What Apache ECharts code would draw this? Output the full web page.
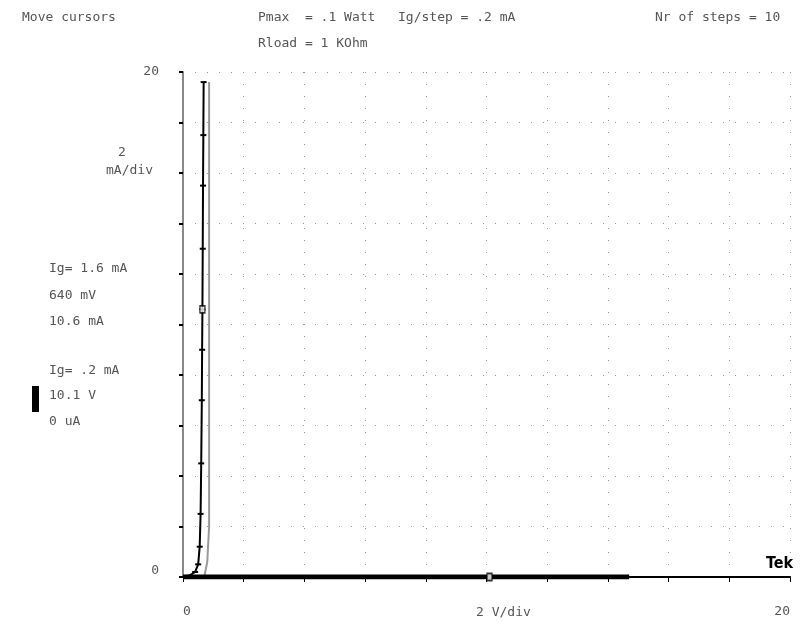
<!DOCTYPE html>
<html>
<head>
<meta charset="utf-8">
<script src="https://cdn.jsdelivr.net/npm/echarts@6/dist/echarts.min.js"></script>
<style>
  html, body { margin: 0; padding: 0; background: #fff; }
  #chart { width: 810px; height: 631px; }
</style>
</head>
<body>
<div id="chart"></div>
<script>
// collector voltage (V) / current (mA) of the forward trace
var traceV = [0, 0.2, 0.4, 0.5, 0.55, 0.58, 0.6, 0.62, 0.63, 0.64, 0.65, 0.66, 0.67, 0.68]
var traceI = [0, 0.05, 0.2, 0.5, 1.2, 2.5, 4.5, 7, 9, 10.6, 13, 15.5, 17.5, 19.6]
// second (gray) trace close to the first
var grayV = [0.7, 0.8, 0.86, 0.86]
var grayI = [0, 0.6, 2, 19.6]
// reverse / leakage trace lying on the zero line
var flatV = [0, 2, 4, 6, 8, 10, 12, 14, 14.7]
var flatI = [0, 0, 0, 0, 0, 0, 0, 0, 0]
// cursors
var cursorV = [0.64, 10.1]
var cursorI = [10.6, 0]
// tick labels
var xTicks = ['0', '20']
var yTicks = ['0', '20']

var chart = echarts.init(document.getElementById('chart'))
var mono = 'DejaVu Sans Mono'
var txtColor = '#555'

function pairs(xs, ys) {
  var out = []
  for (let i = 0; i < xs.length; i++) {
    out.push([xs[i], ys[i]])
  }
  return out
}

function label(x, y, s, extra) {
  return {
    type: 'text',
    left: x,
    top: y,
    style: Object.assign({ text: s, fill: txtColor, font: '13px "' + mono + '"' }, extra || {})
  }
}

chart.setOption({
  animation: false,
  backgroundColor: '#fff',
  grid: { left: 183, right: 20, top: 72, bottom: 54 },
  xAxis: {
    type: 'value',
    min: 0,
    max: 20,
    interval: 2,
    axisLine: { lineStyle: { color: '#000', width: 2 } },
    axisTick: { length: 5, lineStyle: { color: '#000' } },
    axisLabel: {
      margin: 28,
      color: txtColor,
      fontFamily: mono,
      fontSize: 13,
      alignMinLabel: 'left',
      alignMaxLabel: 'right',
      formatter: function (v) {
        return xTicks.indexOf(String(v)) >= 0 ? String(v) : ''
      }
    },
    splitLine: { show: true, lineStyle: { color: '#999', type: [1, 11], width: 1 } }
  },
  yAxis: {
    type: 'value',
    min: 0,
    max: 20,
    interval: 2,
    axisLine: { show: true, lineStyle: { color: '#888', width: 2 } },
    axisTick: { show: true, length: 4, lineStyle: { color: '#000', width: 2 } },
    axisLabel: {
      margin: 24,
      color: txtColor,
      fontFamily: mono,
      fontSize: 13,
      verticalAlignMinLabel: 'bottom',
      formatter: function (v) {
        return yTicks.indexOf(String(v)) >= 0 ? String(v) : ''
      }
    },
    splitLine: { show: true, lineStyle: { color: '#999', type: [1, 11], width: 1 } }
  },
  series: [
    {
      type: 'line',
      data: pairs(flatV, flatI),
      symbol: 'none',
      lineStyle: { color: '#000', width: 5 },
      z: 3
    },
    {
      type: 'line',
      data: pairs(grayV, grayI),
      symbol: 'none',
      lineStyle: { color: '#999', width: 2 },
      z: 2
    },
    {
      type: 'line',
      data: pairs(traceV, traceI),
      symbol: 'rect',
      symbolSize: [6, 2],
      itemStyle: { color: '#000' },
      lineStyle: { color: '#000', width: 2 },
      z: 4
    },
    {
      type: 'scatter',
      data: pairs(cursorV, cursorI),
      symbol: 'rect',
      symbolSize: [5, 7],
      itemStyle: { color: '#fff', borderColor: '#000', borderWidth: 1.5 },
      z: 5
    }
  ],
  graphic: [
    label(22, 11, 'Move cursors'),
    label(258, 11, 'Pmax  = .1 Watt'),
    label(398, 11, 'Ig/step = .2 mA'),
    label(655, 11, 'Nr of steps = 10'),
    label(258, 37, 'Rload = 1 KOhm'),
    label(118, 146, '2'),
    label(106, 164, 'mA/div'),
    label(49, 262, 'Ig= 1.6 mA'),
    label(49, 289, '640 mV'),
    label(49, 315, '10.6 mA'),
    label(49, 364, 'Ig= .2 mA'),
    label(49, 389, '10.1 V'),
    label(49, 415, '0 uA'),
    label(476, 606, '2 V/div'),
    {
      type: 'rect',
      shape: { x: 32, y: 386, width: 7, height: 26 },
      style: { fill: '#000' }
    },
    {
      type: 'text',
      left: 766,
      top: 556,
      style: { text: 'Tek', fill: '#000', font: 'bold 16px "DejaVu Sans Condensed", sans-serif' }
    }
  ]
})
</script>
</body>
</html>
